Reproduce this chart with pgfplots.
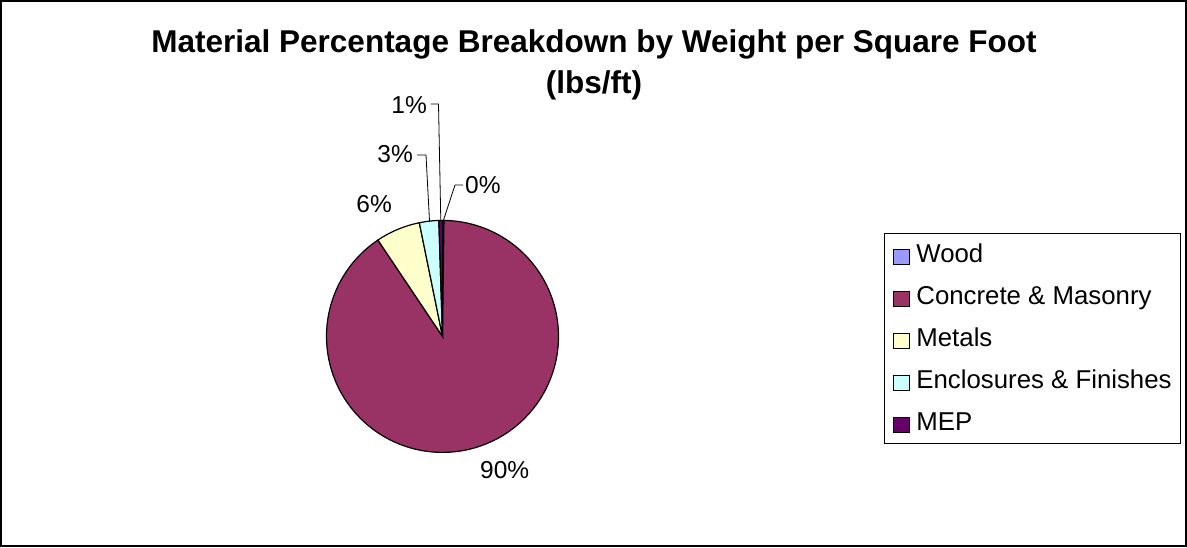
\documentclass[border=0pt]{standalone}
\usepackage{pgfplots}
\pgfplotsset{compat=1.18}
\usepackage{fontspec}
\setmainfont{Liberation Sans}
\definecolor{cWood}{HTML}{9999FF}
\definecolor{cConc}{HTML}{993366}
\definecolor{cMet}{HTML}{FFFFCC}
\definecolor{cEnc}{HTML}{CCFFFF}
\definecolor{cMEP}{HTML}{660066}
% data: percentage of weight per square foot
\def\vWood{0.2}
\def\vConc{90.4}
\def\vMet{6.2}
\def\vEnc{2.7}
\def\vMEP{0.5}
\begin{document}
\begin{tikzpicture}[x=1pt,y=1pt]
\pgfmathsetmacro\aA{90}
\pgfmathsetmacro\aB{\aA-3.6*\vWood}
\pgfmathsetmacro\aC{\aB-3.6*\vConc}
\pgfmathsetmacro\aD{\aC-3.6*\vMet}
\pgfmathsetmacro\aE{\aD-3.6*\vEnc}
\pgfmathsetmacro\aF{\aE-3.6*\vMEP}
\path[use as bounding box] (0,0) rectangle (1187,-547);
\draw[line width=1.5pt] (1,-1) rectangle (1186,-546);
\node[anchor=base, font=\fontsize{31.5}{36}\selectfont\bfseries] at (594,-52.7) {Material Percentage Breakdown by Weight per Square Foot};
\node[anchor=base, font=\fontsize{31.5}{36}\selectfont\bfseries] at (594,-93) {(lbs/ft)};
\begin{axis}[at={(442.5pt,-336.4pt)}, anchor=origin,
  scale only axis, width=232pt, height=232pt,
  xmin=-1, xmax=1, ymin=-1, ymax=1, hide axis, clip=false,
  legend cell align=left,
  legend image code/.code={\draw[#1, draw=black, line width=1pt] (0pt,-10pt) rectangle (16pt,5pt); \path[draw=none,fill=none] (0pt,0pt) -- (22.5pt,0pt);},
  legend style={at={(2.403,0.9457)}, anchor=north west, draw=black, line width=0.8pt,
    inner xsep=9pt, inner ysep=0pt, row sep=0pt, column sep=0pt,
    font=\fontsize{25.8}{30}\selectfont,
    nodes={inner sep=0pt, text height=29.5pt, text depth=12.5pt}},
]
\addplot[fill=cWood, draw=black, line width=1.2pt, domain=\aB:\aA, samples=4, variable=\t] ({cos(\t)},{sin(\t)}) -- (axis cs:0,0) -- cycle;
\addlegendentry{Wood}
\addplot[fill=cConc, draw=black, line width=1.2pt, domain=\aC:\aB, samples=181, variable=\t] ({cos(\t)},{sin(\t)}) -- (axis cs:0,0) -- cycle;
\addlegendentry{Concrete \& Masonry}
\addplot[fill=cMet, draw=black, line width=1.2pt, domain=\aD:\aC, samples=20, variable=\t] ({cos(\t)},{sin(\t)}) -- (axis cs:0,0) -- cycle;
\addlegendentry{Metals}
\addplot[fill=cEnc, draw=black, line width=1.2pt, domain=\aE:\aD, samples=10, variable=\t] ({cos(\t)},{sin(\t)}) -- (axis cs:0,0) -- cycle;
\addlegendentry{Enclosures \& Finishes}
\addplot[fill=cMEP, draw=black, line width=1.2pt, domain=\aF:\aE, samples=4, variable=\t] ({cos(\t)},{sin(\t)}) -- (axis cs:0,0) -- cycle;
\addlegendentry{MEP}
\end{axis}
% data labels
\begin{scope}[font=\fontsize{24.5}{29}\selectfont]
\node[anchor=base east, inner sep=0pt] at (427,-113) {1\%};
\node[anchor=base east, inner sep=0pt] at (413,-162) {3\%};
\node[anchor=base east, inner sep=0pt] at (392,-212) {6\%};
\node[anchor=base west, inner sep=0pt] at (465,-193) {0\%};
\node[anchor=base west, inner sep=0pt] at (480,-478) {90\%};
\end{scope}
\draw[line width=0.8pt] (430.5,-104) -- (438.5,-104) -- (440.8,-221);
\draw[line width=0.8pt] (417,-155) -- (426,-155) -- (429.5,-221);
\draw[line width=0.8pt] (463,-185) -- (455,-185) -- (443.2,-221);
\end{tikzpicture}
\end{document}
